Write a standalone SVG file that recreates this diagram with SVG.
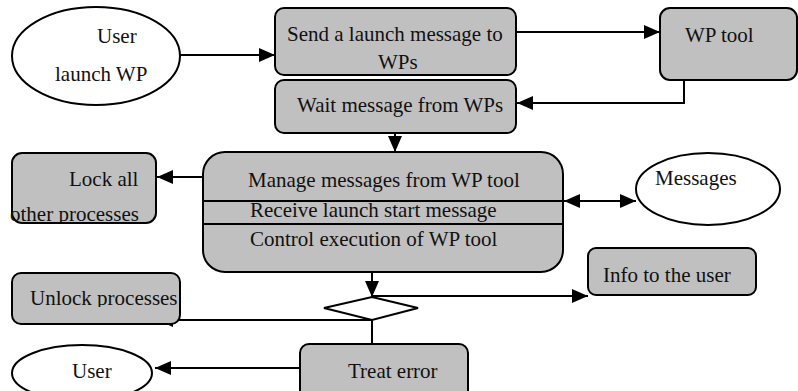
<svg xmlns="http://www.w3.org/2000/svg" width="798" height="391" viewBox="0 0 798 391">
<style>
.box{fill:#c0c0c0;stroke:#000;stroke-width:2}
.ell{fill:#fff;stroke:#000;stroke-width:2}
.t{font-family:"Liberation Serif","Times New Roman",serif;font-size:21px;fill:#111}
.c{fill:none;stroke:#000;stroke-width:2}
.div{stroke:#000;stroke-width:2}
</style>
<defs>
<marker id="ah" markerUnits="userSpaceOnUse" markerWidth="16" markerHeight="14" refX="16" refY="7" orient="auto-start-reverse" viewBox="0 0 16 14">
<path d="M0,0 L16,7 L0,14 z" fill="#000"/>
</marker>
<clipPath id="clipLock"><rect x="0" y="150" width="170" height="72"/></clipPath>
<clipPath id="clipUnlock"><rect x="0" y="270" width="190" height="37"/></clipPath>
</defs>
<rect width="798" height="391" fill="#fff"/>

<g id="connectors">
<line class="c" x1="180" y1="55" x2="275" y2="55" marker-end="url(#ah)"/>
<line class="c" x1="516" y1="32" x2="660" y2="32" marker-end="url(#ah)"/>
<polyline class="c" points="684,80 684,103 517,103" marker-end="url(#ah)"/>
<line class="c" x1="395" y1="128" x2="395" y2="152" marker-end="url(#ah)"/>
<line class="c" x1="203" y1="177" x2="157" y2="177" marker-end="url(#ah)"/>
<line class="c" x1="564" y1="201" x2="636" y2="201" marker-start="url(#ah)" marker-end="url(#ah)"/>
<line class="c" x1="372" y1="272" x2="372" y2="297" marker-end="url(#ah)"/>
<line class="c" x1="372" y1="296" x2="588" y2="296" marker-end="url(#ah)"/>
<line class="c" x1="372" y1="320" x2="157" y2="320" marker-end="url(#ah)"/>
<line class="c" x1="372" y1="320" x2="372" y2="344"/>
<line class="c" x1="300" y1="368" x2="155" y2="368" marker-end="url(#ah)"/>
</g>

<g id="user-launch">
<ellipse class="ell" cx="96" cy="56" rx="84" ry="49"/>
<text class="t" x="97" y="43">User</text>
<text class="t" x="55" y="81">launch WP</text>
</g>

<g id="send">
<rect class="box" x="275" y="8" width="241" height="67" rx="9"/>
<text class="t" x="287" y="41">Send a launch message to</text>
<text class="t" x="378" y="69">WPs</text>
</g>

<g id="wp-tool">
<rect class="box" x="660" y="8" width="137" height="72" rx="10"/>
<text class="t" x="685" y="42">WP tool</text>
</g>

<g id="wait">
<rect class="box" x="275" y="80" width="241" height="53" rx="9"/>
<text class="t" x="297" y="112">Wait message from WPs</text>
</g>

<g id="manage">
<rect class="box" x="203" y="152" width="360" height="120" rx="22"/>
<line class="div" x1="203" y1="201" x2="563" y2="201"/>
<line class="div" x1="203" y1="224" x2="563" y2="224"/>
<text class="t" x="248" y="187">Manage messages from WP tool</text>
<text class="t" x="250" y="217">Receive launch start message</text>
<text class="t" x="250" y="246">Control execution of WP tool</text>
</g>

<g id="lock">
<rect class="box" x="12" y="153" width="144" height="70" rx="10"/>
<text class="t" x="69" y="186">Lock all</text>
<text class="t" x="10" y="221" clip-path="url(#clipLock)">other processes</text>
</g>

<g id="messages">
<ellipse class="ell" cx="708" cy="189" rx="72" ry="36"/>
<text class="t" x="655" y="185">Messages</text>
</g>

<g id="decision">
<polygon class="ell" points="372,297 418,308 372,320 324,308"/>
</g>

<g id="info">
<rect class="box" x="588" y="248" width="168" height="47" rx="8"/>
<text class="t" x="603" y="282">Info to the user</text>
</g>

<g id="unlock">
<rect class="box" x="12" y="273" width="168" height="51" rx="9"/>
<text class="t" x="30" y="305" clip-path="url(#clipUnlock)">Unlock processes</text>
</g>

<g id="treat-error">
<rect class="box" x="300" y="344" width="168" height="60" rx="9"/>
<text class="t" x="348" y="378">Treat error</text>
</g>

<g id="user">
<ellipse class="ell" cx="82" cy="373" rx="70" ry="28"/>
<text class="t" x="72" y="378">User</text>
</g>
</svg>
